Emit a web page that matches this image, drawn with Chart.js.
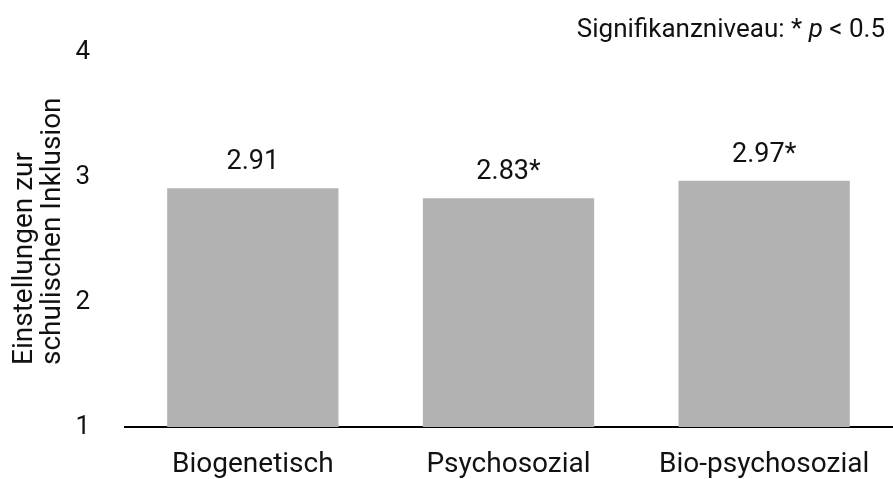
<!DOCTYPE html>
<html lang="de">
<head>
  <meta charset="UTF-8">
  <title>Einstellungen zur schulischen Inklusion</title>
  <script src="https://cdn.jsdelivr.net/npm/chart.js"></script>
  <style>
    html, body { margin: 0; padding: 0; background: #fff; }
    #chart-container { width: 893px; height: 479px; }
    #chart { display: block; }
  </style>
</head>
<body>
  <div id="chart-container">
    <canvas id="chart" width="893" height="479"></canvas>
  </div>

  <script>
    // Werte aus der Abbildung
    const categories = ['Biogenetisch', 'Psychosozial', 'Bio-psychosozial'];
    const means = [2.91, 2.83, 2.97];
    const significant = [false, true, true];
    const yTicks = [1, 2, 3, 4];
    const yTitle = ['Einstellungen zur', 'schulischen Inklusion'];

    const FONT = 'Roboto';
    const TEXT = '#111';

    // Werte über den Balken, mit * bei Signifikanz
    const valueLabels = {
      id: 'valueLabels',
      afterDatasetsDraw(chart) {
        const ctx = chart.ctx;
        const meta = chart.getDatasetMeta(0);
        ctx.save();
        ctx.font = `27px ${FONT}`;
        ctx.fillStyle = TEXT;
        ctx.textAlign = 'center';
        ctx.textBaseline = 'alphabetic';
        meta.data.forEach((bar, i) => {
          const txt = means[i].toFixed(2) + (significant[i] ? '*' : '');
          ctx.fillText(txt, bar.x, bar.y - 19);
        });
        ctx.restore();
      }
    };

    // y-Achsentitel, zweizeilig und linksbündig (gedreht)
    const yAxisTitle = {
      id: 'yAxisTitle',
      afterDraw(chart) {
        const ctx = chart.ctx;
        ctx.save();
        ctx.translate(0, chart.chartArea.bottom - 62);
        ctx.rotate(-Math.PI / 2);
        ctx.font = `28px ${FONT}`;
        ctx.fillStyle = TEXT;
        ctx.textAlign = 'left';
        ctx.textBaseline = 'alphabetic';
        yTitle.forEach((line, i) => ctx.fillText(line, 0, 32 + i * 28));
        ctx.restore();
      }
    };

    // Hinweis oben rechts, "p" kursiv
    const sigNote = {
      id: 'sigNote',
      afterDraw(chart) {
        const ctx = chart.ctx;
        const parts = [
          { t: 'Signifikanzniveau: * ', f: `26px ${FONT}` },
          { t: 'p', f: `italic 26px ${FONT}` },
          { t: ' < 0.5', f: `26px ${FONT}` }
        ];
        ctx.save();
        ctx.fillStyle = TEXT;
        ctx.textBaseline = 'alphabetic';
        let w = 0;
        parts.forEach(p => { ctx.font = p.f; w += ctx.measureText(p.t).width; });
        let x = chart.width - 8 - w;
        parts.forEach(p => {
          ctx.font = p.f;
          ctx.fillText(p.t, x, 37);
          x += ctx.measureText(p.t).width;
        });
        ctx.restore();
      }
    };

    new Chart(document.getElementById('chart'), {
      type: 'bar',
      data: {
        labels: categories,
        datasets: [{
          data: means,
          backgroundColor: '#b2b2b2',
          barPercentage: 0.67,
          categoryPercentage: 1
        }]
      },
      options: {
        responsive: false,
        animation: false,
        layout: { padding: { top: 52, right: 1, left: 0, bottom: 0 } },
        plugins: {
          legend: { display: false },
          tooltip: { enabled: false }
        },
        scales: {
          x: {
            grid: { display: false },
            border: { color: '#000', width: 2 },
            ticks: { color: TEXT, font: { family: FONT, size: 28, lineHeight: 1 }, padding: 16 },
            afterFit: axis => {
              axis.height = 52;
              axis.paddingLeft = 0;
              axis.paddingRight = 0;
            }
          },
          y: {
            min: 1,
            max: 4,
            afterBuildTicks: axis => { axis.ticks = yTicks.map(v => ({ value: v })); },
            grid: { display: false },
            border: { display: false },
            ticks: { color: TEXT, font: { family: FONT, size: 26 }, padding: 27 },
            afterFit: axis => { axis.width = 125; }
          }
        }
      },
      plugins: [valueLabels, yAxisTitle, sigNote]
    });
  </script>
</body>
</html>
